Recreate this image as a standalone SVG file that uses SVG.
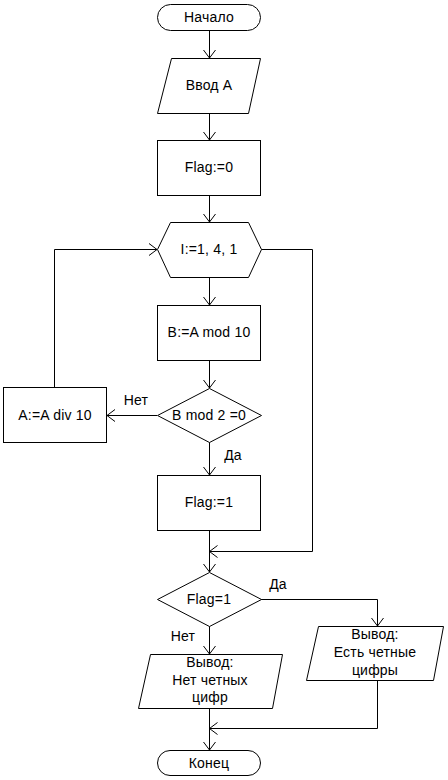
<svg xmlns="http://www.w3.org/2000/svg" width="448" height="780" viewBox="0 0 448 780">
<style>
.s{fill:#fff;stroke:#000;stroke-width:1}
.c{fill:none;stroke:#000;stroke-width:1}
text{font-family:"Liberation Sans",Arial,sans-serif;font-size:14px;letter-spacing:0.2px;fill:#000}
.m{text-anchor:middle}
</style>
<defs>
<marker id="a" markerUnits="userSpaceOnUse" markerWidth="20" markerHeight="20" viewBox="-10 -10 20 20" refX="0" refY="0" orient="auto" overflow="visible">
<path d="M-8,-6 L0,0 L-8,6" fill="none" stroke="#000" stroke-width="1"/>
</marker>
</defs>
<rect width="448" height="780" fill="#fff"/>
<g id="connectors">
<path class="c" d="M209.5,30 V58" marker-end="url(#a)"/>
<path class="c" d="M209.5,113 V140" marker-end="url(#a)"/>
<path class="c" d="M209.5,195 V222" marker-end="url(#a)"/>
<path class="c" d="M209.5,277 V305" marker-end="url(#a)"/>
<path class="c" d="M209.5,360 V388" marker-end="url(#a)"/>
<path class="c" d="M157,415.5 H107" marker-end="url(#a)"/>
<path class="c" d="M54.5,387 V249.5 H157" marker-end="url(#a)"/>
<path class="c" d="M209.5,442 V475" marker-end="url(#a)"/>
<path class="c" d="M209.5,530 V572" marker-end="url(#a)"/>
<path class="c" d="M261,249.5 H312.5 V551.5 H209.5" marker-end="url(#a)"/>
<path class="c" d="M261,599.5 H377.5 V626" marker-end="url(#a)"/>
<path class="c" d="M209.5,626 V654" marker-end="url(#a)"/>
<path class="c" d="M209.5,708 V750" marker-end="url(#a)"/>
<path class="c" d="M377.5,680 V728.5 H209.5" marker-end="url(#a)"/>
<text x="136" y="405" class="m">Нет</text>
<text x="233" y="460" class="m">Да</text>
<text x="278" y="589" class="m">Да</text>
<text x="183" y="641" class="m">Нет</text>
</g>
<g id="start">
<rect class="s" x="157.5" y="4.5" width="103" height="26" rx="13"/>
<text x="209" y="22" class="m">Начало</text>
</g>
<g id="input">
<polygon class="s" points="171.5,58.5 260.5,58.5 248.5,113.5 157.5,113.5"/>
<text x="209" y="90" class="m">Ввод A</text>
</g>
<g id="flag0">
<rect class="s" x="157.5" y="140.5" width="103" height="55"/>
<text x="209" y="172" class="m">Flag:=0</text>
</g>
<g id="loop">
<polygon class="s" points="157.5,249.5 170.5,222.5 248.5,222.5 261.5,249.5 248.5,277.5 170.5,277.5"/>
<text x="209" y="254" class="m">I:=1, 4, 1</text>
</g>
<g id="bmod">
<rect class="s" x="157.5" y="305.5" width="103" height="55"/>
<text x="209" y="337" class="m">B:=A mod 10</text>
</g>
<g id="cond1">
<polygon class="s" points="209.5,388.5 261.5,415.5 209.5,442.5 157.5,415.5"/>
<text x="209" y="420" class="m">B mod 2 =0</text>
</g>
<g id="adiv">
<rect class="s" x="3.5" y="387.5" width="103" height="55"/>
<text x="55" y="420" class="m">A:=A div 10</text>
</g>
<g id="flag1">
<rect class="s" x="157.5" y="475.5" width="103" height="55"/>
<text x="209" y="507" class="m">Flag:=1</text>
</g>
<g id="cond2">
<polygon class="s" points="209.5,572.5 261.5,599.5 209.5,626.5 157.5,599.5"/>
<text x="209" y="604" class="m">Flag=1</text>
</g>
<g id="outyes">
<polygon class="s" points="318.5,626.5 443.5,626.5 433.5,680.5 306.5,680.5"/>
<text x="375" y="639" class="m">Вывод:</text>
<text x="375" y="657" class="m">Есть четные</text>
<text x="375" y="675" class="m">цифры</text>
</g>
<g id="outno">
<polygon class="s" points="150.5,654.5 282.5,654.5 272.5,708.5 138.5,708.5"/>
<text x="210" y="667" class="m">Вывод:</text>
<text x="210" y="685" class="m">Нет четных</text>
<text x="210" y="702" class="m">цифр</text>
</g>
<g id="end">
<rect class="s" x="157.5" y="750.5" width="103" height="25" rx="12.5"/>
<text x="209" y="768" class="m">Конец</text>
</g>
</svg>
